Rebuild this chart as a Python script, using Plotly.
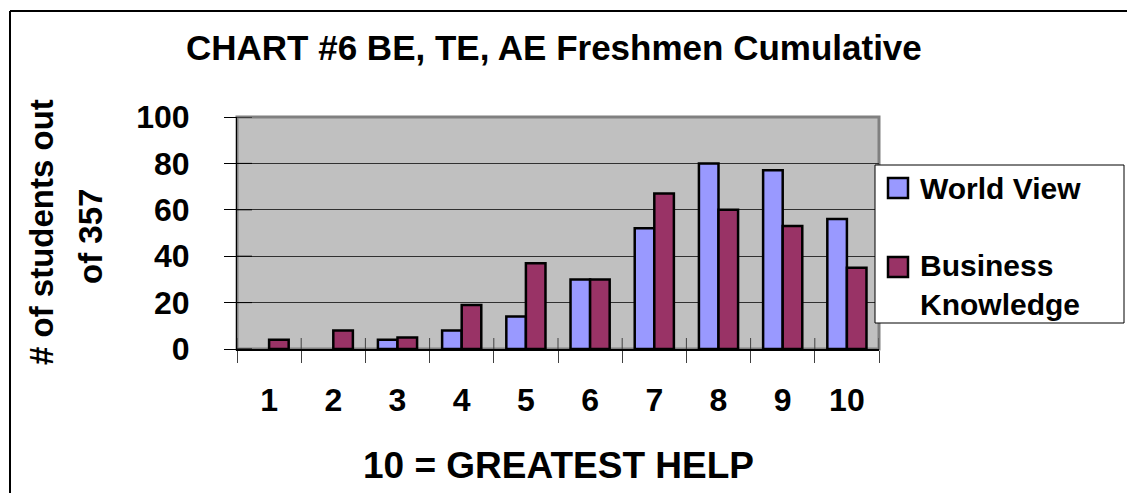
import plotly.graph_objects as go

# ---- data ----
categories = ["1", "2", "3", "4", "5", "6", "7", "8", "9", "10"]
world_view = [0, 0, 4, 8, 14, 30, 52, 80, 77, 56]
business_knowledge = [4, 8, 5, 19, 37, 30, 67, 60, 53, 35]
y_ticks = [0, 20, 40, 60, 80, 100]
series_names = ["World View", "Business Knowledge"]

# ---- style ----
W, H = 1127, 493
L, R, T, B = 237, 879, 117, 349  # plot area in pixels
FONT = "Liberation Sans, Arial, Helvetica, sans-serif"
C_WV = "#9999FF"
C_BK = "#993366"
EDGE = 2.5

def px(x):
    return (x - L) / (R - L)

def py(y):
    return (B - y) / (B - T)

def edge_widths(vals):
    # no outline for empty bars (as in the original chart)
    return [EDGE if v > 0 else 0 for v in vals]

fig = go.Figure()
fig.add_trace(go.Bar(x=categories, y=world_view, name=series_names[0],
                     marker=dict(color=C_WV, line=dict(color="black", width=edge_widths(world_view)))))
fig.add_trace(go.Bar(x=categories, y=business_knowledge, name=series_names[1],
                     marker=dict(color=C_BK, line=dict(color="black", width=edge_widths(business_knowledge)))))

shapes = []
# plot-area gray frame
shapes.append(dict(type="rect", xref="paper", yref="paper", x0=0, x1=1, y0=0, y1=1,
                   line=dict(color="#808080", width=3), layer="below"))
# inner halves of crossing ticks (x axis)
for i in range(len(categories) + 1):
    shapes.append(dict(type="line", xref="x", yref="paper", x0=i - 0.5, x1=i - 0.5,
                       y0=0, y1=11 / (B - T), line=dict(color="#404040", width=1)))
# inner halves of crossing ticks (y axis)
for v in y_ticks:
    shapes.append(dict(type="line", xref="paper", yref="y", x0=0, x1=15 / (R - L),
                       y0=v, y1=v, line=dict(color="black", width=1)))
# outer chart border (top and left)
shapes.append(dict(type="line", xref="paper", yref="paper", x0=px(10), x1=px(10),
                   y0=py(H), y1=py(11), line=dict(color="black", width=2)))
shapes.append(dict(type="line", xref="paper", yref="paper", x0=px(10), x1=px(W),
                   y0=py(11), y1=py(11), line=dict(color="black", width=2)))
# legend box
shapes.append(dict(type="rect", xref="paper", yref="paper", x0=px(875), x1=px(1124),
                   y0=py(323), y1=py(165), line=dict(color="black", width=1),
                   fillcolor="white", layer="above"))
shapes.append(dict(type="rect", xref="paper", yref="paper", x0=px(888), x1=px(908),
                   y0=py(198), y1=py(178), line=dict(color="black", width=2.5),
                   fillcolor=C_WV, layer="above"))
shapes.append(dict(type="rect", xref="paper", yref="paper", x0=px(888), x1=px(908),
                   y0=py(277), y1=py(257), line=dict(color="black", width=2.5),
                   fillcolor=C_BK, layer="above"))

annotations = [
    dict(text="CHART #6 BE, TE, AE Freshmen Cumulative", xref="paper", yref="paper",
         x=px(554), y=py(47), xanchor="center", yanchor="middle", showarrow=False,
         font=dict(family=FONT, size=35, color="black", weight=700)),
    dict(text="10 = GREATEST HELP", xref="paper", yref="paper",
         x=px(558), y=py(465), xanchor="center", yanchor="middle", showarrow=False,
         font=dict(family=FONT, size=37, color="black", weight=700)),
    dict(text="# of students out", xref="paper", yref="paper", textangle=-90,
         x=px(41), y=py(232), xanchor="center", yanchor="middle", showarrow=False,
         font=dict(family=FONT, size=33, color="black", weight=700)),
    dict(text="of 357", xref="paper", yref="paper", textangle=-90,
         x=px(90), y=py(237), xanchor="center", yanchor="middle", showarrow=False,
         font=dict(family=FONT, size=33, color="black", weight=700)),
    dict(text=series_names[0], xref="paper", yref="paper",
         x=px(918), y=py(188), xanchor="left", yanchor="middle", showarrow=False,
         font=dict(family=FONT, size=30, color="black", weight=700)),
    dict(text="Business<br>Knowledge", xref="paper", yref="paper", align="left",
         x=px(918), y=py(285), xanchor="left", yanchor="middle", showarrow=False,
         font=dict(family=FONT, size=30, color="black", weight=700)),
]

fig.update_layout(
    width=W, height=H,
    margin=dict(l=L, r=W - R, t=T, b=H - B, pad=0),
    paper_bgcolor="white",
    plot_bgcolor="#C0C0C0",
    barmode="group", bargap=0.39, bargroupgap=0,
    showlegend=False,
    shapes=shapes,
    annotations=annotations,
    font=dict(family=FONT, color="black"),
)
fig.update_xaxes(
    type="category", categoryorder="array", categoryarray=categories,
    range=[-0.5, len(categories) - 0.5],
    tickson="boundaries", ticks="outside", ticklen=12, tickcolor="#404040", tickwidth=1,
    showgrid=False, showline=True, linecolor="black", linewidth=1.5,
    tickfont=dict(family=FONT, size=32, color="black", weight=700),
    ticklabelstandoff=22,
)
fig.update_yaxes(
    range=[0, 100], tickvals=y_ticks, ticks="outside", ticklen=12,
    tickcolor="black", tickwidth=1,
    showgrid=True, gridcolor="#303030", gridwidth=1,
    showline=True, linecolor="black", linewidth=1, zeroline=False,
    tickfont=dict(family=FONT, size=32, color="black", weight=700),
    ticklabelstandoff=28,
)

fig.write_html("out.html", config={"displayModeBar": False},
               post_script="document.body.style.margin='0';document.body.style.overflow='hidden';")
